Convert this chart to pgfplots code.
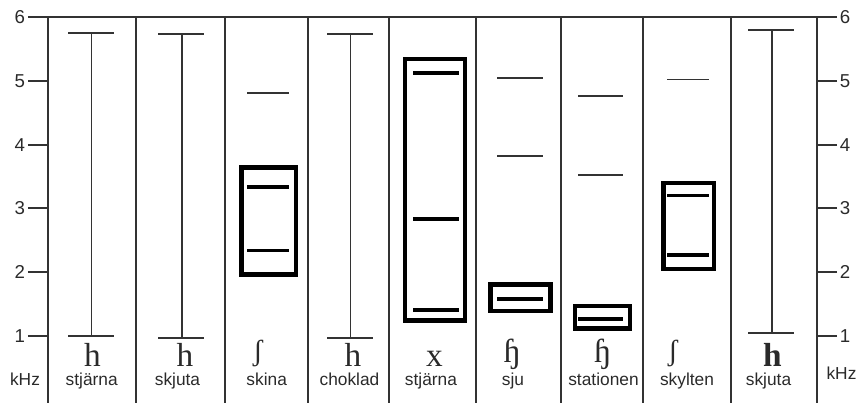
\documentclass[border=0pt]{standalone}
\usepackage{pgfplots}
\pgfplotsset{compat=1.18}
\usepackage{fontspec}
\setmainfont{Liberation Sans}
\newfontfamily\ipa{Liberation Serif}
\definecolor{lc}{HTML}{333333}
\definecolor{tx}{HTML}{2A2A2A}

% x runs in pixel columns of the sketch, y in kHz
\pgfplotsset{
  frame/.style={
    at={(36pt,0pt)}, anchor=south west,
    scale only axis, width=576.75pt, height=289.5pt,
    xmin=48, xmax=817, ymin=-0.0502, ymax=6,
    clip=false, unbounded coords=jump,
    ytick={1,...,6}, tick align=outside, major tick length=15pt,
    /pgf/number format/assume math mode=true,
    yticklabel style={font=\fontsize{14}{16}\selectfont, text=tx, inner sep=2pt},
  },
  ln/.style={lc, line width=1.4pt},
  heavy/.style={black, line width=2.8pt},
  boxed/.style={black, line width=3.4pt, line join=miter},
}

\begin{document}
\begin{tikzpicture}[x=0.75pt,y=0.75pt]
\begin{axis}[frame,
  axis x line*=bottom, x axis line style={draw=none}, xtick=\empty,
  axis y line*=box, y axis line style={lc, line width=1.4pt},
  ytick pos=both, yticklabel pos=left,
  ytick style={lc, line width=1.4pt},
]
% column separators
\addplot[ln] coordinates {
  (136,-0.0502) (136,6) (nan,nan)
  (225,-0.0502) (225,6) (nan,nan)
  (308,-0.0502) (308,6) (nan,nan)
  (389,-0.0502) (389,6) (nan,nan)
  (476,-0.0502) (476,6) (nan,nan)
  (561,-0.0502) (561,6) (nan,nan)
  (643,-0.0502) (643,6) (nan,nan)
  (731,-0.0502) (731,6)
};
% top rule
\addplot[ln] coordinates {(48,6) (817,6)};

% ranges (h): caps and stems
\addplot[ln] coordinates {
  (68,5.75) (114,5.75) (nan,nan) (91.5,5.75) (91.5,1.00) (nan,nan) (68,1.00) (114,1.00) (nan,nan)
  (158,5.73) (204,5.73) (nan,nan) (182,5.73) (182,0.97) (nan,nan) (158,0.97) (204,0.97) (nan,nan)
  (327,5.73) (373,5.73) (nan,nan) (350.5,5.73) (350.5,0.97) (nan,nan) (327,0.97) (373,0.97) (nan,nan)
  (748,5.80) (794,5.80) (nan,nan) (772,5.80) (772,1.05) (nan,nan) (748,1.05) (794,1.05)
};

% thin formant lines
\addplot[ln] coordinates {
  (247,4.81) (289,4.81) (nan,nan)
  (497,5.05) (543,5.05) (nan,nan)
  (497,3.82) (543,3.82) (nan,nan)
  (578,4.76) (623,4.76) (nan,nan)
  (578,3.53) (623,3.53) (nan,nan)
  (667,5.02) (709,5.02)
};

% boxes
\addplot[boxed] coordinates {(241.5,1.96) (296,1.96) (296,3.64) (241.5,3.64)} -- cycle;
\addplot[boxed] coordinates {(405,1.24) (465,1.24) (465,5.34) (405,5.34)} -- cycle;
\addplot[boxed] coordinates {(490.7,1.39) (550.7,1.39) (550.7,1.81) (490.7,1.81)} -- cycle;
\addplot[boxed] coordinates {(575,1.12) (630,1.12) (630,1.47) (575,1.47)} -- cycle;
\addplot[boxed] coordinates {(663.7,2.05) (714,2.05) (714,3.40) (663.7,3.40)} -- cycle;

% thick lines inside boxes
\addplot[heavy] coordinates {
  (247,3.34) (289,3.34) (nan,nan)
  (247,2.34) (289,2.34) (nan,nan)
  (413,5.12) (459,5.12) (nan,nan)
  (413,2.83) (459,2.83) (nan,nan)
  (413,1.41) (459,1.41) (nan,nan)
  (497,1.58) (543,1.58) (nan,nan)
  (578,1.27) (623,1.27) (nan,nan)
  (667,3.20) (709,3.20) (nan,nan)
  (667,2.27) (709,2.27)
};
\end{axis}

\begin{axis}[frame,
  hide x axis,
  axis y line*=right, y axis line style={draw=none},
  ytick style={draw=none}, yticklabel pos=right,
]
\end{axis}

\tikzset{w/.style={anchor=base, text=tx, font=\fontsize{13}{15}\selectfont},
         p/.style={anchor=base, text=tx, font=\ipa\fontsize{25}{28}\selectfont},
         q/.style={anchor=base, text=tx, font=\ipa\fontsize{22}{24}\selectfont}}
\node[p] at (92.5,36) {h};
\node[p] at (185,36) {h};
\node[q] at (258,42) {ʃ};
\node[p] at (353,36) {h};
\node[p] at (434.5,36) {x};
\node[p] at (512,40) {ɧ};
\node[p] at (602.5,40) {ɧ};
\node[q] at (673,42) {ʃ};
\node[p] at (772.5,36) {\bfseries h};

\node[w] at (91.7,17) {stjärna};
\node[w] at (177.5,17) {skjuta};
\node[w] at (266.7,17) {skina};
\node[w] at (349.5,17) {choklad};
\node[w] at (431,17) {stjärna};
\node[w] at (513,17) {sju};
\node[w] at (603.5,17) {stationen};
\node[w] at (687,17) {skylten};
\node[w] at (768.5,17) {skjuta};

\node[w] at (25,17) {kHz};
\node[w] at (841.5,23) {kHz};

\pgfresetboundingbox
\path[use as bounding box] (0,0) rectangle (861,403);
\end{tikzpicture}
\end{document}
